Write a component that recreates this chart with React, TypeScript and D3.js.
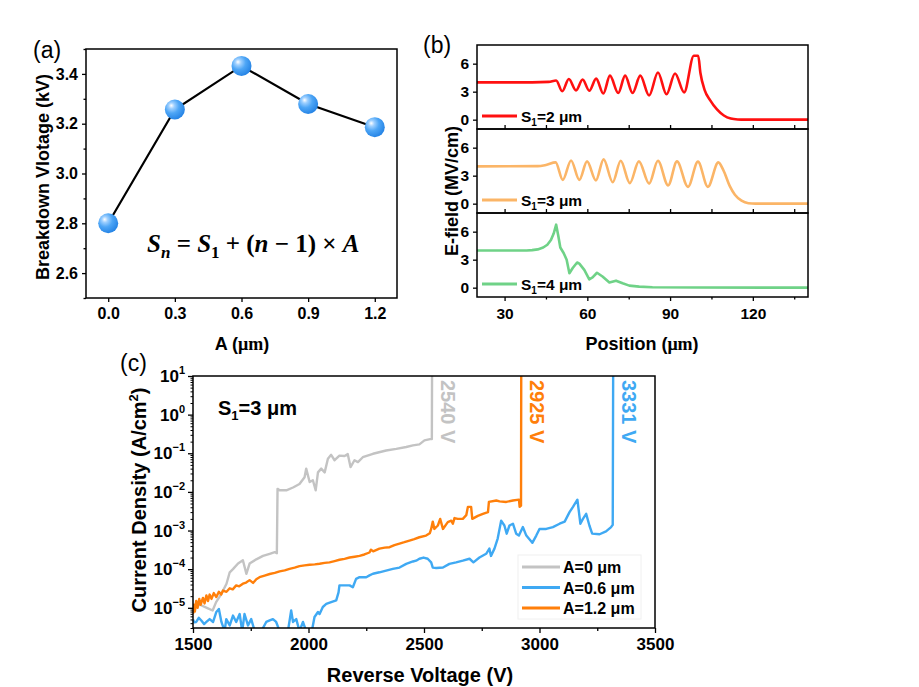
import * as d3 from "d3";
import { useEffect, useRef } from "react";

const FONT = "'Liberation Sans', Arial, Helvetica, sans-serif";
const SERIF = "'Liberation Serif', 'Times New Roman', serif";

// (a) breakdown voltage vs. step A
const stepA = [0, 0.3, 0.6, 0.9, 1.2];
const breakdownKV = [2.8, 3.257, 3.432, 3.279, 3.186];
const stepTicks = [0, 0.3, 0.6, 0.9, 1.2];
const kvTicks = [2.6, 2.8, 3.0, 3.2, 3.4];
const kvMinor = [2.5, 2.7, 2.9, 3.1, 3.3, 3.5];

// (b) E-field profiles, [position um, MV/cm]
const fieldS2: [number, number][] = [
    [20, 4.0], [40, 4.0], [46, 4.05], [48.7, 4.2], [50.9, 3.05], [53.3, 4.36], [55.9, 3.14], [58.3, 4.3],
    [60.7, 3.1], [63.2, 4.4], [65.8, 2.8], [68.2, 4.72], [71.2, 2.86], [73.7, 4.72], [76.4, 2.86], [79.2, 4.72],
    [82.4, 2.6], [85.6, 5.05], [88.7, 2.72], [91.8, 4.95], [95.1, 2.92], [98.6, 6.85], [100.2, 6.85],
    [101, 5.0], [102.5, 3.2], [104.5, 2.1], [107, 1.1], [109.5, 0.45], [112, 0.12], [114.5, 0.02], [117, 0], [140, 0],
];
const fieldS3: [number, number][] = [
    [20, 4.0], [42, 4.02], [45, 4.15], [48.5, 4.42], [51.1, 2.55], [54.1, 4.63], [57.1, 2.55], [59.9, 4.53],
    [63.1, 2.5], [65.9, 4.75], [69.2, 2.3], [72.1, 4.6], [75.4, 2.2], [78.7, 4.53], [82.4, 2.15], [85.6, 4.6],
    [89.3, 1.95], [92.5, 4.53], [96.5, 1.8], [100.1, 4.5], [103.7, 1.8], [107.5, 4.42], [109.3, 3.6],
    [111.7, 1.85], [113.5, 0.95], [115.9, 0.32], [118.4, 0.05], [121, 0], [140, 0],
];
const fieldS4: [number, number][] = [
    [20, 3.98], [38, 3.98], [40, 4.02], [42, 4.1], [44, 4.3], [45.5, 4.6], [46.8, 5.1], [47.8, 5.8], [48.7, 6.75],
    [49.5, 5.5], [50.2, 4.3], [51.4, 3.72], [52.5, 3.0], [53.5, 1.55], [54.7, 2.1], [56.3, 2.7], [57.1, 2.57],
    [58.9, 1.9], [60.7, 0.9], [61.9, 1.1], [63.5, 1.6], [65.5, 1.2], [68, 0.55], [70.4, 0.75], [72.8, 0.47],
    [75.2, 0.22], [78.8, 0.11], [83.6, 0.04], [100, 0.02], [140, 0],
];
const fieldSeries = [fieldS2, fieldS3, fieldS4];
const fieldS1 = ["2", "3", "4"];
const fieldColors = ["#ff1010", "#fbb567", "#6fd287"];
const posTicks = [30, 60, 90, 120];
const posMinor = [45, 75, 105, 135];
const fieldTicks = [0, 3, 6];

// (c) reverse I-V, [V, A/cm2]
const ivA0: [number, number][] = [
    [1500, 1e-5], [1530, 1.2e-5], [1560, 1.0e-5], [1585, 8.5e-6], [1600, 1.4e-5], [1623, 2.3e-5], [1645, 4.2e-5],
    [1659, 8.3e-5], [1673, 1.0e-4], [1695, 1.4e-4], [1716, 1.7e-4], [1731, 7.6e-5], [1745, 1.4e-4], [1774, 1.8e-4],
    [1803, 2.2e-4], [1832, 2.5e-4], [1854, 2.75e-4], [1863, 2.6e-4], [1866, 1.2e-2], [1875, 1.1e-2], [1904, 1.1e-2],
    [1933, 1.3e-2], [1961, 1.6e-2], [1983, 2.4e-2], [1990, 4e-2], [2005, 1.8e-2], [2019, 2e-2], [2031, 1.1e-2],
    [2041, 3.2e-2], [2055, 4e-2], [2070, 3.2e-2], [2084, 7.2e-2], [2098, 9.1e-2], [2113, 6.6e-2], [2134, 8.7e-2],
    [2156, 8.5e-2], [2170, 9.5e-2], [2182, 4.4e-2], [2199, 6.6e-2], [2214, 5.9e-2], [2235, 7.9e-2], [2279, 9.7e-2],
    [2336, 0.118], [2380, 0.13], [2423, 0.145], [2452, 0.16], [2480, 0.17], [2502, 0.215], [2531, 0.235],
    [2534, 0.235], [2535, 20],
];
const ivA06: [number, number][] = [
    [1500, 5e-6], [1505, 4.2e-6], [1514, 4.3e-6], [1525, 5.5e-6], [1536, 4.7e-6], [1548, 3.8e-6], [1558, 4.3e-6],
    [1572, 5.1e-6], [1587, 4.3e-6], [1601, 7.8e-6], [1612, 9.3e-6], [1623, 4.3e-6], [1637, 2.5e-6], [1644, 5.1e-6],
    [1659, 3.5e-6], [1673, 6.3e-6], [1687, 4.3e-6], [1702, 6.9e-6], [1713, 2.5e-6], [1723, 6.9e-6], [1738, 3.5e-6],
    [1752, 5.1e-6], [1767, 2.5e-6], [1781, 2.8e-6], [1796, 2.5e-6], [1817, 4.3e-6], [1832, 4.7e-6], [1846, 5.1e-6],
    [1860, 4.3e-6], [1875, 2.5e-6], [1889, 2.8e-6], [1911, 2.5e-6], [1925, 8.5e-6], [1933, 4.3e-6], [1947, 5.1e-6],
    [1961, 2.5e-6], [1976, 4.3e-6], [1990, 2.5e-6], [2005, 2.5e-6], [2015, 2.6e-6], [2026, 5.8e-6], [2041, 7.8e-6],
    [2048, 6.9e-6], [2062, 1.05e-5], [2077, 1.26e-5], [2098, 1.4e-5], [2120, 1.55e-5], [2130, 2.5e-5],
    [2134, 3.8e-5], [2149, 3.8e-5], [2178, 3.8e-5], [2192, 3.4e-5], [2206, 5.6e-5], [2221, 6.2e-5], [2250, 6.2e-5],
    [2264, 6.9e-5], [2279, 7.6e-5], [2307, 8.3e-5], [2336, 9.2e-5], [2365, 1.02e-4], [2394, 1.1e-4],
    [2423, 1.37e-4], [2452, 1.58e-4], [2466, 1.66e-4], [2480, 1.86e-4], [2498, 2.0e-4], [2516, 1.86e-4],
    [2531, 1.5e-4], [2538, 1.1e-4], [2553, 1.07e-4], [2582, 1.1e-4], [2610, 1.37e-4], [2639, 1.5e-4],
    [2668, 1.66e-4], [2697, 1.86e-4], [2714, 1.5e-4], [2740, 2.0e-4], [2769, 2.5e-4], [2783, 3.4e-4],
    [2790, 2.2e-4], [2805, 3.4e-4], [2819, 6.2e-4], [2834, 1.8e-3], [2848, 1.35e-3], [2858, 8.3e-4],
    [2870, 1.35e-3], [2885, 1.5e-3], [2899, 8.3e-4], [2911, 7.4e-4], [2928, 1.23e-3], [2943, 7.4e-4],
    [2969, 4.8e-4], [2986, 7.4e-4], [3000, 1.1e-3], [3029, 1.1e-3], [3058, 1.23e-3], [3087, 1.5e-3],
    [3109, 1.7e-3], [3130, 3.0e-3], [3145, 4.1e-3], [3164, 6.3e-3], [3177, 1.5e-3], [3188, 2.0e-3],
    [3202, 2.7e-3], [3216, 1.35e-3], [3228, 8.3e-4], [3260, 8.0e-4], [3288, 9.5e-4], [3310, 1.23e-3],
    [3317, 1.4e-3], [3319, 20],
];
const ivA12: [number, number][] = [
    [1500, 7e-6], [1504, 1.2e-5], [1508, 8e-6], [1514, 1.5e-5], [1520, 1.0e-5], [1527, 1.7e-5], [1533, 1.2e-5],
    [1543, 1.8e-5], [1550, 1.3e-5], [1558, 2.1e-5], [1565, 1.5e-5], [1572, 2.2e-5], [1580, 1.7e-5], [1590, 2.4e-5],
    [1601, 1.9e-5], [1612, 2.6e-5], [1622, 2.2e-5], [1630, 2.8e-5], [1645, 2.6e-5], [1659, 3.2e-5], [1672, 3.0e-5],
    [1687, 3.8e-5], [1700, 3.6e-5], [1716, 4.2e-5], [1730, 4.5e-5], [1745, 5.2e-5], [1760, 4.4e-5], [1774, 5.5e-5],
    [1788, 6.2e-5], [1810, 6.8e-5], [1832, 7.5e-5], [1854, 8.0e-5], [1875, 8.8e-5], [1897, 9.3e-5], [1918, 1.02e-4],
    [1940, 1.1e-4], [1961, 1.2e-4], [1983, 1.25e-4], [2005, 1.3e-4], [2027, 1.33e-4], [2048, 1.38e-4],
    [2070, 1.45e-4], [2091, 1.5e-4], [2113, 1.62e-4], [2134, 1.75e-4], [2156, 1.85e-4], [2178, 2.0e-4],
    [2200, 2.1e-4], [2221, 2.2e-4], [2242, 2.4e-4], [2264, 2.7e-4], [2270, 3.2e-4], [2280, 2.9e-4], [2307, 3.4e-4],
    [2330, 3.6e-4], [2351, 3.7e-4], [2372, 4.2e-4], [2394, 4.6e-4], [2415, 5.0e-4], [2437, 5.5e-4], [2458, 6.0e-4],
    [2480, 6.7e-4], [2509, 7.4e-4], [2525, 8.5e-4], [2531, 1.1e-3], [2538, 1.7e-3], [2545, 1.1e-3], [2560, 1.35e-3],
    [2570, 2.0e-3], [2582, 1.1e-3], [2603, 1.65e-3], [2618, 1.8e-3], [2625, 1.5e-3], [2632, 2.1e-3], [2646, 2.0e-3],
    [2668, 2.0e-3], [2683, 2.5e-3], [2690, 4.1e-3], [2704, 4.1e-3], [2709, 2.0e-3], [2733, 2.4e-3], [2755, 2.7e-3],
    [2777, 3.0e-3], [2781, 5.5e-3], [2813, 6.0e-3], [2827, 5.7e-3], [2856, 5.5e-3], [2885, 6.0e-3], [2911, 6.3e-3],
    [2914, 4.1e-3], [2920, 4.4e-3], [2921, 20],
];
const ivSeries = [ivA0, ivA06, ivA12];
const ivNames = ["A=0 μm", "A=0.6 μm", "A=1.2 μm"];
const ivColors = ["#c3c3c3", "#3fa9f3", "#ff7f0a"];
// breakdown voltage per series (same order as ivSeries)
const breakdownV = [2535, 3319, 2921];
const breakdownText = ["2540 V", "3331 V", "2925 V"];
const voltTicks = [1500, 2000, 2500, 3000, 3500];
const voltMinor = [1750, 2250, 2750, 3250];
const densTicks = [1e-5, 1e-4, 1e-3, 1e-2, 1e-1, 1e0, 1e1];

type G = d3.Selection<SVGGElement, unknown, null, undefined>;

function styleAxis(g: G, size: number) {
    g.attr("font-family", FONT).attr("font-size", size).attr("font-weight", "bold");
    g.select(".domain").remove();
    g.selectAll("line").attr("stroke", "#000").attr("stroke-width", 1.3);
    g.selectAll("text").attr("fill", "#000");
}

export default function App() {
    const svgRef = useRef<SVGSVGElement>(null);

    useEffect(() => {
        const svg = d3.select(svgRef.current);
        svg.selectAll("*").remove();

        const defs = svg.append("defs");
        const grad = defs.append("radialGradient").attr("id", "sphere")
            .attr("cx", "38%").attr("cy", "35%").attr("r", "65%").attr("fx", "32%").attr("fy", "30%");
        grad.append("stop").attr("offset", "0%").attr("stop-color", "#ffffff");
        grad.append("stop").attr("offset", "22%").attr("stop-color", "#9fd0ff");
        grad.append("stop").attr("offset", "55%").attr("stop-color", "#4ea6f6");
        grad.append("stop").attr("offset", "100%").attr("stop-color", "#2785e6");

        const label = (x: number, y: number, t: string, size: number, rot = 0) =>
            svg.append("text").attr("transform", `translate(${x},${y}) rotate(${rot})`)
                .attr("font-family", FONT).attr("font-size", size).attr("font-weight", "bold")
                .attr("text-anchor", "middle").text(t);

        // ---------------- (a)
        const ax = d3.scaleLinear().domain([-0.1, 1.3]).range([86, 397]);
        const ay = d3.scaleLinear().domain([2.5, 3.5]).range([298, 49]);
        const ga = svg.append("g");

        const axA = ga.append("g").attr("transform", "translate(0,298)")
            .call(d3.axisBottom(ax).tickValues(stepTicks).tickSizeInner(4).tickSizeOuter(0).tickPadding(6).tickFormat(d3.format(".1f")));
        styleAxis(axA, 16);
        const ayA = ga.append("g").attr("transform", "translate(86,0)")
            .call(d3.axisLeft(ay).tickValues(kvTicks).tickSizeInner(4).tickSizeOuter(0).tickPadding(4).tickFormat(d3.format(".1f")));
        styleAxis(ayA, 16);
        const ayMinor = ga.append("g").attr("transform", "translate(86,0)")
            .call(d3.axisLeft(ay).tickValues(kvMinor).tickSizeInner(2.5).tickSizeOuter(0).tickFormat(() => ""));
        styleAxis(ayMinor, 16);

        ga.append("rect").attr("x", 86).attr("y", 49).attr("width", 311).attr("height", 249)
            .attr("fill", "none").attr("stroke", "#000").attr("stroke-width", 1.5);

        const lineA = d3.line<number>().x((_, i) => ax(stepA[i])).y(d => ay(d));
        ga.append("path").attr("d", lineA(breakdownKV)).attr("fill", "none").attr("stroke", "#000").attr("stroke-width", 2.2);
        ga.selectAll("circle.pt").data(breakdownKV).enter().append("circle")
            .attr("cx", (_, i) => ax(stepA[i])).attr("cy", d => ay(d)).attr("r", 10).attr("fill", "url(#sphere)");

        const formula = ga.append("text").attr("x", 147).attr("y", 252)
            .attr("font-family", SERIF).attr("font-size", 25).attr("font-weight", "bold");
        formula.append("tspan").attr("font-style", "italic").text("S");
        formula.append("tspan").attr("font-style", "italic").attr("font-size", 17).attr("dy", 6).text("n");
        formula.append("tspan").attr("dy", -6).text(" =  ");
        formula.append("tspan").attr("font-style", "italic").text("S");
        formula.append("tspan").attr("font-size", 17).attr("dy", 6).text("1");
        formula.append("tspan").attr("dy", -6).text(" + (");
        formula.append("tspan").attr("font-style", "italic").text("n");
        formula.append("tspan").text(" − 1) × ");
        formula.append("tspan").attr("font-style", "italic").text("A");

        svg.append("text").attr("x", 33).attr("y", 58).attr("font-family", FONT).attr("font-size", 23).text("(a)");
        label(49, 177, "Breakdown Vlotage (kV)", 18, -90);
        const xla = label(242, 350, "A (", 18);
        xla.append("tspan").attr("font-family", SERIF).text("μm");
        xla.append("tspan").text(")");

        // ---------------- (b)
        const bx = d3.scaleLinear().domain([20, 140]).range([477, 808]);
        const tops = [45, 129, 213];
        const ph = 84;
        fieldSeries.forEach((series, k) => {
            const top = tops[k];
            const by = d3.scaleLinear().domain([-1, 8]).range([top + ph, top]);
            const gb = svg.append("g");
            const yAx = gb.append("g").attr("transform", "translate(477,0)")
                .call(d3.axisLeft(by).tickValues(fieldTicks).tickSizeInner(4).tickSizeOuter(0).tickPadding(4));
            styleAxis(yAx, 15.5);
            if (k < 2) {
                const xAx = gb.append("g").attr("transform", `translate(0,${top + ph})`)
                    .call(d3.axisBottom(bx).tickValues([...posTicks, ...posMinor]).tickSizeInner(-4).tickSizeOuter(0).tickFormat(() => ""));
                styleAxis(xAx, 15);
            } else {
                const xAx = gb.append("g").attr("transform", `translate(0,${top + ph})`)
                    .call(d3.axisBottom(bx).tickValues(posTicks).tickSizeInner(4).tickSizeOuter(0).tickPadding(7));
                styleAxis(xAx, 15.5);
                const xMin = gb.append("g").attr("transform", `translate(0,${top + ph})`)
                    .call(d3.axisBottom(bx).tickValues(posMinor).tickSizeInner(2.5).tickSizeOuter(0).tickFormat(() => ""));
                styleAxis(xMin, 15);
            }
            const curve = k === 2 ? d3.curveLinear : d3.curveMonotoneX;
            const ln = d3.line<[number, number]>().x(d => bx(d[0])).y(d => by(d[1])).curve(curve);
            gb.append("path").attr("d", ln(series)).attr("fill", "none").attr("stroke", fieldColors[k])
                .attr("stroke-width", 2.6).attr("stroke-linejoin", "round");
            gb.append("rect").attr("x", 477).attr("y", top).attr("width", 331).attr("height", ph)
                .attr("fill", "none").attr("stroke", "#000").attr("stroke-width", 1.5);
            // legend
            const ly = top + 71;
            gb.append("line").attr("x1", 482).attr("x2", 517).attr("y1", ly).attr("y2", ly)
                .attr("stroke", fieldColors[k]).attr("stroke-width", 3);
            const lt = gb.append("text").attr("x", 521).attr("y", ly + 6)
                .attr("font-family", FONT).attr("font-size", 15.5).attr("font-weight", "bold");
            lt.append("tspan").text("S");
            lt.append("tspan").attr("font-size", 10).attr("dy", 4).text("1");
            lt.append("tspan").attr("dy", -4).text(`=${fieldS1[k]} μm`);
        });
        svg.append("text").attr("x", 423).attr("y", 53).attr("font-family", FONT).attr("font-size", 23).text("(b)");
        label(458, 191, "E-field (MV/cm)", 18, -90);
        const xlb = label(642, 350, "Position (", 18);
        xlb.append("tspan").attr("font-family", SERIF).text("μm");
        xlb.append("tspan").text(")");

        // ---------------- (c)
        const cx = d3.scaleLinear().domain([1500, 3500]).range([193, 655]);
        const cy = d3.scaleLog().domain([3e-6, 10]).range([628, 376]);
        const gc = svg.append("g");
        defs.append("clipPath").attr("id", "clipc").append("rect")
            .attr("x", 193).attr("y", 376).attr("width", 462).attr("height", 252);

        const xAxC = gc.append("g").attr("transform", "translate(0,628)")
            .call(d3.axisBottom(cx).tickValues(voltTicks).tickSizeInner(5).tickSizeOuter(0).tickPadding(5).tickFormat(d3.format("d")));
        styleAxis(xAxC, 17);
        const xMinC = gc.append("g").attr("transform", "translate(0,628)")
            .call(d3.axisBottom(cx).tickValues(voltMinor).tickSizeInner(3).tickSizeOuter(0).tickFormat(() => ""));
        styleAxis(xMinC, 17);
        const yAxC = gc.append("g").attr("transform", "translate(193,0)")
            .call(d3.axisLeft(cy).tickValues(densTicks).tickSizeInner(5).tickSizeOuter(0).tickFormat(() => ""));
        styleAxis(yAxC, 17);
        const logMinor = cy.ticks().filter(t => {
            const e = Math.log10(t);
            return Math.abs(e - Math.round(e)) > 1e-6;
        });
        const yMinC = gc.append("g").attr("transform", "translate(193,0)")
            .call(d3.axisLeft(cy).tickValues(logMinor).tickSizeInner(2.5).tickSizeOuter(0).tickFormat(() => ""));
        styleAxis(yMinC, 17);
        yMinC.selectAll("line").attr("stroke-width", 1);
        densTicks.forEach(t => {
            const tx = gc.append("text").attr("x", 185).attr("y", cy(t) + 6).attr("text-anchor", "end")
                .attr("font-family", FONT).attr("font-size", 17).attr("font-weight", "bold");
            tx.append("tspan").text("10");
            tx.append("tspan").attr("font-size", 11).attr("dy", -8).text(String(Math.round(Math.log10(t))).replace("-", "−"));
        });

        const plot = gc.append("g").attr("clip-path", "url(#clipc)");
        const lnC = d3.line<[number, number]>().x(d => cx(d[0])).y(d => cy(d[1]));
        ivSeries.forEach((s, k) => {
            plot.append("path").attr("d", lnC(s)).attr("fill", "none").attr("stroke", ivColors[k])
                .attr("stroke-width", 2.4).attr("stroke-linejoin", "round");
        });
        gc.append("rect").attr("x", 193).attr("y", 376).attr("width", 462).attr("height", 252)
            .attr("fill", "none").attr("stroke", "#000").attr("stroke-width", 1.5);

        // breakdown annotations, rotated next to each vertical rise
        breakdownV.forEach((v, k) => {
            gc.append("text").attr("transform", `translate(${cx(v) + 9},380) rotate(90)`)
                .attr("font-family", FONT).attr("font-size", 20).attr("font-weight", "bold")
                .attr("fill", ivColors[k]).text(breakdownText[k]);
        });

        const s1 = gc.append("text").attr("x", 218).attr("y", 415).attr("font-family", FONT)
            .attr("font-size", 20).attr("font-weight", "bold");
        s1.append("tspan").text("S");
        s1.append("tspan").attr("font-size", 13).attr("dy", 5).text("1");
        s1.append("tspan").attr("dy", -5).text("=3 μm");

        // legend
        gc.append("rect").attr("x", 518).attr("y", 555).attr("width", 123).attr("height", 64)
            .attr("fill", "#fff").attr("stroke", "#f0f0f0");
        ivNames.forEach((n, k) => {
            const ly = 567 + k * 20.5;
            gc.append("line").attr("x1", 522).attr("x2", 560).attr("y1", ly).attr("y2", ly)
                .attr("stroke", ivColors[k]).attr("stroke-width", 3);
            gc.append("text").attr("x", 563).attr("y", ly + 6).attr("font-family", FONT)
                .attr("font-size", 16).attr("font-weight", "bold").text(n);
        });

        svg.append("text").attr("x", 120).attr("y", 371).attr("font-family", FONT).attr("font-size", 23).text("(c)");
        const ylc = label(146, 500, "Current Density (A/cm", 20, -90);
        ylc.append("tspan").attr("font-size", 13).attr("dy", -8).text("2");
        ylc.append("tspan").attr("dy", 8).text(")");
        label(420, 682, "Reverse Voltage (V)", 20);
    }, []);

    return (
        <svg ref={svgRef} width={919} height={687}
            style={{ position: "absolute", left: 0, top: 0, background: "#fff" }}>
        </svg>
    );
}
